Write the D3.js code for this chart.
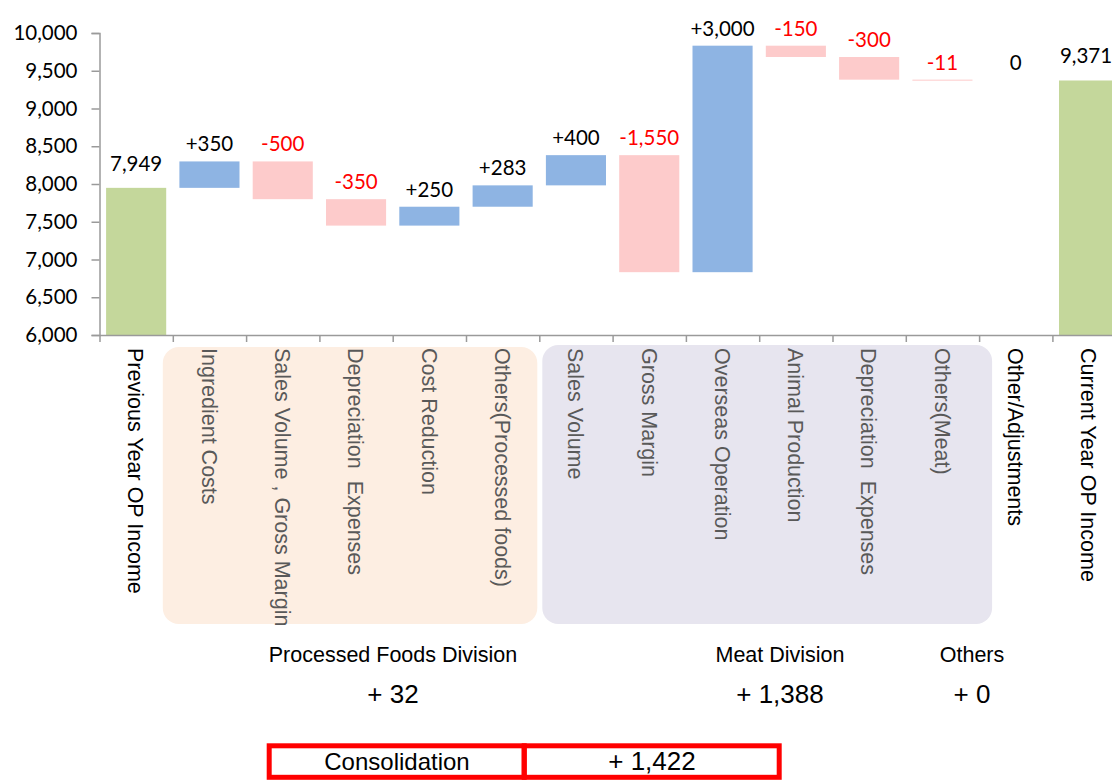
<!DOCTYPE html>
<html>
<head>
<meta charset="utf-8">
<script src="https://cdn.jsdelivr.net/npm/d3@7"></script>
<style>
  body { margin: 0; background: #fff; }
  svg { display: block; }
</style>
</head>
<body>
<div id="chart"></div>
<script>
// ---------- data ----------
const categories = [
  "Previous Year OP Income", "Ingredient Costs", "Sales Volume , Gross Margin",
  "Depreciation  Expenses", "Cost Reduction", "Others(Processed foods)",
  "Sales Volume", "Gross Margin", "Overseas Operation", "Animal Production",
  "Depreciation  Expenses", "Others(Meat)", "Other/Adjustments", "Current Year OP Income"
]
const kinds = ["total", "delta", "delta", "delta", "delta", "delta",
  "delta", "delta", "delta", "delta", "delta", "delta", "delta", "total"]
const values = [7949, 350, -500, -350, 250, 283, 400, -1550, 3000, -150, -300, -11, 0, 9371]
const yTicks = [6000, 6500, 7000, 7500, 8000, 8500, 9000, 9500, 10000]

const divisions = ["Processed Foods Division", "Meat Division", "Others"]
const divisionValues = [32, 1388, 0]
const consolidationLabel = "Consolidation"
const consolidationValue = 1422

// ---------- layout ----------
const W = 1112, H = 780
const plot = { left: 99.5, top: 33, bottom: 335, step: 73.3 }

const colors = { total: "#c4d79b", up: "#8eb4e3", down: "#fdcbcb" }

// running waterfall bases
let run = 0
const bars = values.map(function(v, i) {
  let lo, hi
  if (kinds[i] == "total") {
    lo = 6000; hi = v; run = v
  } else {
    lo = Math.min(run, run + v); hi = Math.max(run, run + v); run = run + v
  }
  return { i: i, v: v, kind: kinds[i], lo: lo, hi: hi, name: categories[i] }
})

const x = d3.scaleBand()
  .domain(d3.range(categories.length))
  .range([plot.left, plot.left + categories.length * plot.step])
  .paddingInner(0.18)
  .paddingOuter(0.09)

const xEdge = d3.scaleLinear()
  .domain([0, categories.length])
  .range([plot.left, plot.left + categories.length * plot.step])

const y = d3.scaleLinear()
  .domain([6000, 10000])
  .range([plot.bottom, plot.top])

const svg = d3.select("#chart")
  .append("svg")
  .attr("width", W)
  .attr("height", H)

// group background boxes
svg.append("rect")
  .attr("x", xEdge(1) - 10).attr("y", 347)
  .attr("width", xEdge(6) - 2 - (xEdge(1) - 10)).attr("height", 277)
  .attr("rx", 16).attr("fill", "#fdeee2")

svg.append("rect")
  .attr("x", xEdge(6) + 3).attr("y", 345)
  .attr("width", xEdge(12) + 13 - (xEdge(6) + 3)).attr("height", 279)
  .attr("rx", 16).attr("fill", "#e7e5ef")

// bars
svg.selectAll(".bar")
  .data(bars)
  .enter()
  .append("rect")
  .attr("class", "bar")
  .attr("x", function(d) { return x(d.i) })
  .attr("width", x.bandwidth())
  .attr("y", function(d) { return y(d.hi) })
  .attr("height", function(d) { return Math.max(y(d.lo) - y(d.hi), d.v == 0 ? 0 : 1) })
  .attr("fill", function(d) {
    if (d.kind == "total") return colors.total
    return d.v >= 0 ? colors.up : colors.down
  })

// plain hyphen instead of d3's unicode minus
const fmt = function(v) { return d3.format(",")(v).replace("\u2212", "-") }

// y axis
const yAxis = d3.axisLeft(y)
  .tickValues(yTicks)
  .tickSize(8)
  .tickPadding(14)
  .tickFormat(fmt)

const gy = svg.append("g")
  .attr("transform", "translate(" + plot.left + ",0)")
  .call(yAxis)
gy.select(".domain").attr("stroke", "#9a9a9a").attr("stroke-width", 1.5)
gy.selectAll(".tick line").attr("stroke", "#9a9a9a").attr("stroke-width", 1.5)
gy.selectAll(".tick text")
  .style("font-family", "Lato, 'Open Sans', sans-serif")
  .style("font-size", "20.5px")
  .attr("fill", "#000")

// x axis (category boundary ticks)
const xAxis = d3.axisBottom(xEdge)
  .tickValues(d3.range(categories.length + 1))
  .tickSize(7)
  .tickSizeOuter(0)
  .tickFormat("")

const gx = svg.append("g")
  .attr("transform", "translate(0," + plot.bottom + ")")
  .call(xAxis)
gx.select(".domain").attr("stroke", "#9a9a9a").attr("stroke-width", 1.5)
gx.selectAll(".tick line").attr("stroke", "#9a9a9a").attr("stroke-width", 1.5)

// value labels
svg.selectAll(".val")
  .data(bars)
  .enter()
  .append("text")
  .attr("class", "val")
  .attr("x", function(d) { return x(d.i) + x.bandwidth() / 2 - (d.i == categories.length - 1 ? 3 : 0) })
  .attr("y", function(d) { return y(d.hi) - (d.kind == "total" ? 17 : 10) })
  .attr("text-anchor", "middle")
  .style("font-family", "Lato, 'Open Sans', sans-serif")
  .style("font-size", "20.5px")
  .attr("fill", function(d) { return d.v < 0 ? "#ff0000" : "#000" })
  .text(function(d) {
    if (d.kind == "total") return fmt(d.v)
    if (d.v > 0) return "+" + fmt(d.v)
    return fmt(d.v)
  })

// category labels (rotated, reading downward)
svg.selectAll(".cat")
  .data(bars)
  .enter()
  .append("text")
  .attr("class", "cat")
  .attr("transform", function(d) {
    return "translate(" + (x(d.i) + x.bandwidth() / 2) + ",348) rotate(90)"
  })
  .attr("dy", "0.36em")
  .attr("text-anchor", "start")
  .style("font-family", "'Liberation Sans', Arial, sans-serif")
  .style("font-size", "21.5px")
  .attr("fill", function(d) { return (d.i >= 1 && d.i <= 11) ? "#595959" : "#000" })
  .style("white-space", "pre")
  .text(function(d) { return d.name })

// division summaries
const divX = [393, 780, 972]
svg.selectAll(".div-name")
  .data(divisions)
  .enter()
  .append("text")
  .attr("x", function(d, i) { return divX[i] })
  .attr("y", 662)
  .attr("text-anchor", "middle")
  .style("font-family", "'Liberation Sans', Arial, sans-serif")
  .style("font-size", "21.5px")
  .text(function(d) { return d })

svg.selectAll(".div-val")
  .data(divisionValues)
  .enter()
  .append("text")
  .attr("x", function(d, i) { return divX[i] })
  .attr("y", 703)
  .attr("text-anchor", "middle")
  .style("font-family", "'Liberation Sans', Arial, sans-serif")
  .style("font-size", "26px")
  .text(function(d) { return "+ " + fmt(d) })

// consolidation table
const cons = svg.append("g")
cons.append("rect")
  .attr("x", 269.2).attr("y", 745.8).attr("width", 255).attr("height", 31.5)
  .attr("fill", "none").attr("stroke", "#ff0000").attr("stroke-width", 5)
cons.append("rect")
  .attr("x", 524.2).attr("y", 745.8).attr("width", 255).attr("height", 31.5)
  .attr("fill", "none").attr("stroke", "#ff0000").attr("stroke-width", 5)
cons.append("text")
  .attr("x", 397).attr("y", 769.5)
  .attr("text-anchor", "middle")
  .style("font-family", "'Liberation Sans', Arial, sans-serif")
  .style("font-size", "24px")
  .text(consolidationLabel)
cons.append("text")
  .attr("x", 652).attr("y", 769.5)
  .attr("text-anchor", "middle")
  .style("font-family", "'Liberation Sans', Arial, sans-serif")
  .style("font-size", "26px")
  .text("+ " + fmt(consolidationValue))
</script>
</body>
</html>
